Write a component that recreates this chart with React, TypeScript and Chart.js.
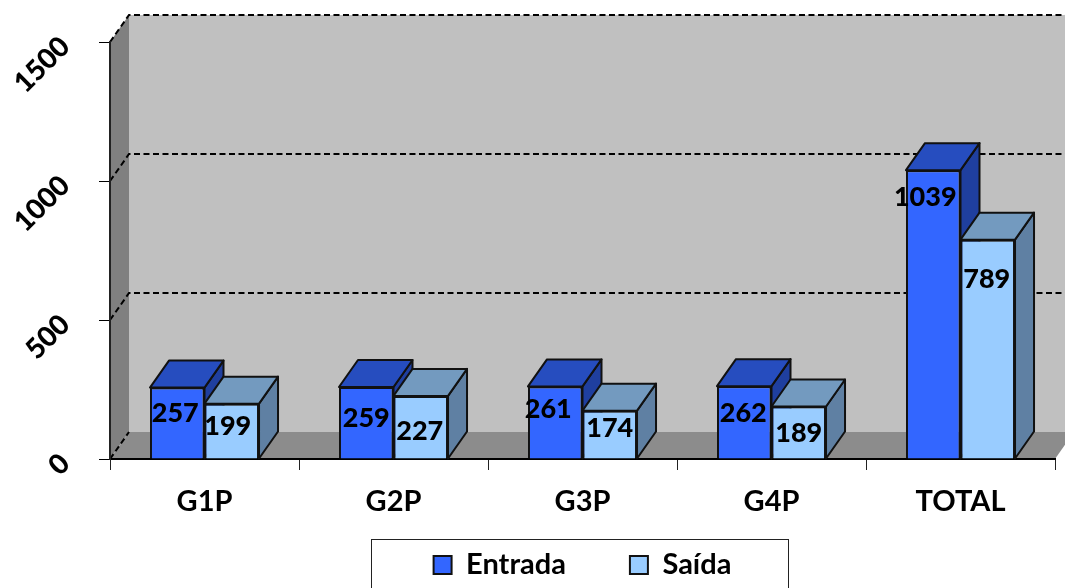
import React, { useEffect, useRef } from "react";
import { Chart, registerables } from "chart.js";

Chart.register(...registerables);

const categories = ["G1P", "G2P", "G3P", "G4P", "TOTAL"];
const entrada = [257, 259, 261, 262, 1039];
const saida = [199, 227, 174, 189, 789];
const yTickValues = [0, 500, 1000, 1500];

// Nudges of each value label from the top centre of its bar, in pixels
const entradaLabelNudge = [[-2, 26], [0, 31], [-7, 23], [-1, 27], [-8, 27]];
const saidaLabelNudge = [[-4, 23], [-1, 35], [0, 18], [0, 27], [-1, 40]];

const FONT = "Lato, 'Open Sans', sans-serif";
const DX = 19;
const DY = -27;
const LEGEND_PADDING = 64;
const LEGEND_FONT = 29;
const LEGEND_TEXT_CENTRE = 565;

const faces = [
  { front: "#3366FF", top: "#264DBF", side: "#1F3F9F" },
  { front: "#99CCFF", top: "#739ABF", side: "#5F80A3" },
];

function poly(ctx: CanvasRenderingContext2D, pts: number[][], fill: string, stroke?: string, lw = 1) {
  ctx.beginPath();
  pts.forEach(([x, y], i) => (i ? ctx.lineTo(x, y) : ctx.moveTo(x, y)));
  ctx.closePath();
  ctx.fillStyle = fill;
  ctx.fill();
  if (stroke) {
    ctx.strokeStyle = stroke;
    ctx.lineWidth = lw;
    ctx.stroke();
  }
}

const scene3d = {
  id: "scene3d",
  afterLayout(chart: any) {
    // keep the wide item gap of the legend without giving it a tall band
    const lg = chart.legend;
    lg.top = LEGEND_TEXT_CENTRE - LEGEND_FONT / 2 - LEGEND_PADDING;
    lg.bottom = lg.top + 140;
  },
  beforeDraw(chart: any) {
    const { ctx, scales } = chart;
    const { x, y } = scales;
    const l = x.left, r = x.right, b = y.bottom, t = y.top;
    ctx.save();
    ctx.fillStyle = "#ffffff";
    ctx.fillRect(0, 0, chart.width, chart.height);
    poly(ctx, [[l + DX, t + DY], [r + DX, t + DY], [r + DX, b + DY], [l + DX, b + DY]], "#C0C0C0");
    poly(ctx, [[l, t], [l + DX, t + DY], [l + DX, b + DY], [l, b]], "#808080");
    poly(ctx, [[l, b], [l + DX, b + DY], [r + DX, b + DY], [r, b]], "#8C8C8C");
    ctx.strokeStyle = "#000000";
    ctx.lineWidth = 2;
    ctx.setLineDash([6, 3.5]);
    yTickValues.forEach((v) => {
      const py = y.getPixelForValue(v);
      ctx.beginPath();
      ctx.moveTo(l, py);
      ctx.lineTo(l + DX, py + DY);
      if (v > 0) ctx.lineTo(r + DX, py + DY);
      ctx.stroke();
    });
    ctx.restore();
    // legend frame
    ctx.save();
    ctx.fillStyle = "#ffffff";
    ctx.strokeStyle = "#222222";
    ctx.lineWidth = 1;
    ctx.fillRect(371.5, 539.5, 417, 60);
    ctx.strokeRect(371.5, 539.5, 417, 60);
    ctx.restore();
  },
  beforeDatasetsDraw(chart: any) {
    const { ctx } = chart;
    ctx.save();
    ctx.lineJoin = "round";
    chart.data.datasets.forEach((_: any, i: number) => {
      const c = faces[i];
      chart.getDatasetMeta(i).data.forEach((bar: any) => {
        const { x, y, base, width } = bar.getProps(["x", "y", "base", "width"], true);
        const x0 = x - width / 2, x1 = x + width / 2;
        poly(ctx, [[x1, y], [x1 + DX, y + DY], [x1 + DX, base + DY], [x1, base]], c.side, "#111111", 2);
        poly(ctx, [[x0, y], [x0 + DX, y + DY], [x1 + DX, y + DY], [x1, y]], c.top, "#111111", 2);
      });
    });
    ctx.restore();
  },
  afterDatasetsDraw(chart: any) {
    const { ctx } = chart;
    ctx.save();
    ctx.font = `900 27px ${FONT}`;
    ctx.fillStyle = "#000000";
    ctx.textAlign = "center";
    ctx.textBaseline = "middle";
    const nudges = [entradaLabelNudge, saidaLabelNudge];
    chart.data.datasets.forEach((ds: any, i: number) => {
      chart.getDatasetMeta(i).data.forEach((bar: any, j: number) => {
        const { x, y } = bar.getProps(["x", "y"], true);
        ctx.fillText(String(ds.data[j]), x + nudges[i][j][0], y + nudges[i][j][1]);
      });
    });
    ctx.restore();
  },
};

export default function App() {
  const ref = useRef<HTMLCanvasElement>(null);
  useEffect(() => {
    const chart = new Chart(ref.current as HTMLCanvasElement, {
      type: "bar",
      data: {
        labels: categories,
        datasets: [
          { label: "Entrada", data: entrada, backgroundColor: faces[0].front, borderColor: "#111111", borderWidth: 2 },
          { label: "Saída", data: saida, backgroundColor: faces[1].front, borderColor: "#111111", borderWidth: 2 },
        ],
      },
      options: {
        responsive: false,
        animation: false,
        layout: { padding: { top: 42, right: 10, bottom: -44, left: 0 } },
        datasets: { bar: { categoryPercentage: 0.577, barPercentage: 1 } },
        plugins: {
          tooltip: { enabled: false },
          legend: {
            position: "bottom",
            fullSize: false,
            labels: {
              boxWidth: 18,
              boxHeight: 18,
              padding: LEGEND_PADDING,
              color: "#000000",
              font: { family: FONT, weight: "bold", size: LEGEND_FONT },
            },
          },
        },
        scales: {
          x: {
            afterFit(s: any) { s.height = 70; },
            grid: { drawOnChartArea: false, drawTicks: true, tickLength: 11, color: "#222222", lineWidth: 1 },
            border: { color: "#000000", width: 2 },
            ticks: { color: "#000000", maxRotation: 0, padding: 14, font: { family: FONT, weight: "bold", size: 29 } },
          },
          y: {
            min: 0,
            max: 1500,
            afterFit(s: any) { s.width = 110; s.paddingTop = 0; s.paddingBottom = 0; },
            grid: { drawOnChartArea: false, drawTicks: true, tickLength: 11, color: "#000000", lineWidth: 1 },
            border: { color: "#222222", width: 2 },
            ticks: {
              stepSize: 500,
              color: "#000000",
              minRotation: 45,
              maxRotation: 45,
              padding: 34,
              callback: (v: any) => String(v),
              font: { family: FONT, weight: "900", size: 28 },
            },
          },
        },
      },
      plugins: [scene3d],
    } as any);
    return () => chart.destroy();
  }, []);
  return (
    <div style={{ position: "fixed", left: 0, top: 0, width: 1065, height: 588, overflow: "hidden", background: "#fff" }}>
      <canvas ref={ref} width={1065} height={588} style={{ display: "block" }} />
    </div>
  );
}
